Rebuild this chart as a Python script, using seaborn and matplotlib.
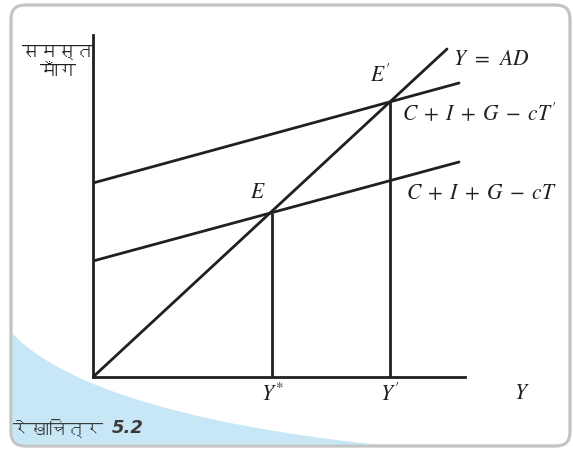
import numpy as np
import pandas as pd
import seaborn as sns
import matplotlib
matplotlib.use("Agg")
import matplotlib.pyplot as plt
from matplotlib import font_manager as fm
from matplotlib.patches import FancyBboxPatch, PathPatch
from matplotlib.path import Path

# ---------------- data ----------------
income_ends = [0, 366]            # horizontal extent of the AD lines
ad_low = [116, 215]               # C + I + G - cT
ad_high = [194, 294]              # C + I + G - cT'
diag_x = [0, 354]                 # Y = AD line
diag_y = [0, 328]
y_star = 179                      # equilibrium income Y*
y_prime = 297                     # equilibrium income Y'
x_axis_max = 372
y_axis_max = 342

y_label = "समस्त\nमाँग"
caption_hi = "रेखाचित्र"
caption_num = "5.2"
label_low = r"$C\;+\;I\;+\;G\;-\;cT$"
label_high = r"$C\;+\;I\;+\;G\;-\;cT'$"
label_diag = r"$Y\;\,=\;\,AD$"
tick_labels = [r"$Y^{*}$", r"$Y'$", r"$Y$"]
point_labels = [r"$E$", r"$E'$"]

# ---------------- fonts ----------------
def find_font(ch):
    try:
        from fontTools.ttLib import TTFont
    except Exception:
        return None
    for path in sorted(fm.findSystemFonts()):
        try:
            f = TTFont(path, fontNumber=0, lazy=True)
            cmap = f.getBestCmap()
            if cmap and ord(ch) in cmap:
                return path
        except Exception:
            pass
    return None

sns.set_theme(style="white")
plt.rcParams["mathtext.fontset"] = "stix"
plt.rcParams["font.family"] = ["DejaVu Sans"]

dev_path = find_font("स")
if dev_path:
    fm.fontManager.addfont(dev_path)
    dev_fp = fm.FontProperties(fname=dev_path)
else:
    dev_fp = fm.FontProperties(family="DejaVu Sans")

W, H = 573, 451
fig = plt.figure(figsize=(W / 100, H / 100), dpi=100)

# ---------------- background decoration (pixel coords) ----------------
bg = fig.add_axes([0, 0, 1, 1])
bg.set_xlim(0, W)
bg.set_ylim(H, 0)
bg.axis("off")

frame = FancyBboxPatch((11, 5), 559, 441, boxstyle="round,pad=0,rounding_size=14",
                       facecolor="white", edgecolor="#c4c4c4", lw=2.0, zorder=1)
bg.add_patch(frame)

verts = [(8, 328), (45, 375), (160, 425), (410, 448), (410, 452), (8, 452), (8, 328)]
codes = [Path.MOVETO, Path.CURVE4, Path.CURVE4, Path.CURVE4, Path.LINETO, Path.LINETO, Path.CLOSEPOLY]
blue = PathPatch(Path(verts, codes), facecolor="#c7e7f7", edgecolor="none", zorder=2)
bg.add_patch(blue)
blue.set_clip_path(frame)
frame2 = FancyBboxPatch((11, 5), 559, 441, boxstyle="round,pad=0,rounding_size=14",
                        facecolor="none", edgecolor="#c4c4c4", lw=2.0, zorder=3)
bg.add_patch(frame2)

# ---------------- main chart ----------------
ox, oy = 93, 377
ax = fig.add_axes([ox / W, (H - oy) / H, x_axis_max / W, y_axis_max / H])
ax.set_facecolor("none")
ax.set_xlim(0, x_axis_max)
ax.set_ylim(0, y_axis_max)
for s in ["top", "right"]:
    ax.spines[s].set_visible(False)
ink = "#231f20"
for s in ["left", "bottom"]:
    ax.spines[s].set_color(ink)
    ax.spines[s].set_linewidth(2.0)
ax.set_xticks([])
ax.set_yticks([])

lw = 2.0
df = pd.DataFrame({"x": income_ends, "low": ad_low, "high": ad_high})
sns.lineplot(data=df, x="x", y="low", ax=ax, color=ink, lw=lw)
sns.lineplot(data=df, x="x", y="high", ax=ax, color=ink, lw=lw)
sns.lineplot(x=diag_x, y=diag_y, ax=ax, color=ink, lw=lw)
e_low = np.interp(y_star, income_ends, ad_low)
e_high = np.interp(y_prime, income_ends, ad_high)
ax.vlines([y_star, y_prime], 0, [e_low, e_high], color=ink, lw=lw)
ax.set_xlabel("")
ax.set_ylabel("")

fs = 15.5
tkw = dict(color=ink, fontsize=fs, clip_on=False)
ax.text(diag_x[1] + 6, diag_y[1] - 10, label_diag, ha="left", va="center", **tkw)
ax.text(income_ends[1] - 57, ad_high[1] - 30, label_high, ha="left", va="center", **tkw)
ax.text(income_ends[1] - 53, ad_low[1] - 31, label_low, ha="left", va="center", **tkw)
ax.text(y_star - 14, e_low + 21, point_labels[0], ha="center", va="center", **tkw)
ax.text(y_prime - 10, e_high + 27, point_labels[1], ha="center", va="center", **tkw)
for xv, lab in zip([y_star, y_prime, x_axis_max + 57], tick_labels):
    ax.text(xv, -6, lab, ha="center", va="top", **tkw)

# y-axis label (Devanagari)
fig.text(58 / W, 1 - 62 / H, y_label, ha="center", va="center", fontproperties=dev_fp,
         fontsize=13, color=ink, linespacing=1.25)

# caption
fig.text(13 / W, 1 - 428 / H, caption_hi, ha="left", va="center", fontproperties=dev_fp,
         fontsize=13, color="#3a3a3a", fontweight="bold")
fig.text(112 / W, 1 - 428 / H, caption_num, ha="left", va="center", fontsize=13,
         color="#3a3a3a", fontstyle="italic", fontweight="bold", family=["DejaVu Sans"])

fig.savefig("out.png", dpi=100)
